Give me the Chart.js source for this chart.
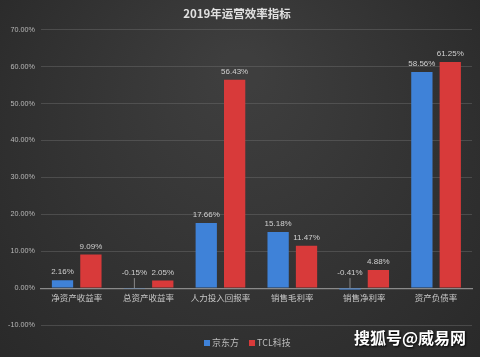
<!DOCTYPE html>
<html>
<head>
<meta charset="utf-8">
<script src="https://cdn.jsdelivr.net/npm/chart.js@4.4.1/dist/chart.umd.min.js"></script>
<style>
html,body{margin:0;padding:0;background:#2e2e2e;}
#wrap{width:480px;height:357px;position:relative;}
</style>
</head>
<body>
<div id="wrap"><canvas id="c" width="480" height="357"></canvas></div>
<script>
const categories = ["净资产收益率","总资产收益率","人力投入回报率","销售毛利率","销售净利率","资产负债率"];
const boeValues = [2.16, -0.15, 17.66, 15.18, -0.41, 58.56];
const tclValues = [9.09, 2.05, 56.43, 11.47, 4.88, 61.25];
const seriesNames = ["京东方","TCL科技"];
const yTicks = {min:-10, max:70, step:10};

const bgPlugin = {
  id:'bg',
  beforeDraw(chart){
    const {ctx,width,height} = chart;
    ctx.save();
    const g = ctx.createRadialGradient(width*0.5, height*0.2, 20, width*0.5, height*0.5, width*0.75);
    g.addColorStop(0,'#3e3e3e');
    g.addColorStop(1,'#262626');
    ctx.fillStyle = g;
    ctx.fillRect(0,0,width,height);
    ctx.restore();
  }
};

const labelPlugin = {
  id:'labels',
  afterDatasetsDraw(chart){
    const ctx = chart.ctx;
    const yScale = chart.scales.y;
    ctx.save();
    ctx.font = '8px "Liberation Sans", Arial, sans-serif';
    ctx.fillStyle = '#d0d0d0';
    ctx.textAlign = 'center';
    ctx.textBaseline = 'bottom';
    chart.data.datasets.forEach((ds,i)=>{
      const meta = chart.getDatasetMeta(i);
      meta.data.forEach((bar,j)=>{
        const v = ds.data[j];
        const y = yScale.getPixelForValue(Math.max(v,0));
        if (v < 0) {
          ctx.strokeStyle = '#a0a0a0';
          ctx.lineWidth = 0.8;
          ctx.beginPath();
          ctx.moveTo(bar.x, yScale.getPixelForValue(0));
          ctx.lineTo(bar.x, y - 10);
          ctx.stroke();
          ctx.fillText(v.toFixed(2)+'%', bar.x, y - 11);
        } else {
          ctx.fillText(v.toFixed(2)+'%', bar.x, y - 4);
        }
      });
    });
    ctx.restore();
  }
};

const legendPlugin = {
  id:'customLegend',
  afterDraw(chart){
    const ctx = chart.ctx;
    ctx.save();
    ctx.font = '9px "Noto Sans CJK SC", sans-serif';
    ctx.textBaseline = 'middle';
    const y = 343;
    let x = 204;
    chart.data.datasets.forEach((ds)=>{
      ctx.fillStyle = ds.backgroundColor;
      ctx.fillRect(x, y-3, 6, 6);
      ctx.fillStyle = '#bdbdbd';
      ctx.textAlign = 'left';
      ctx.fillText(ds.label, x+8, y);
      x += 8 + ctx.measureText(ds.label).width + 10;
    });
    // watermark
    ctx.font = 'bold 16px "Noto Sans CJK SC", sans-serif';
    ctx.shadowColor = 'rgba(0,0,0,0.9)';
    ctx.shadowBlur = 2;
    ctx.shadowOffsetX = 1;
    ctx.shadowOffsetY = 1;
    ctx.fillStyle = '#ffffff';
    ctx.textAlign = 'left';
    ctx.fillText('搜狐号@威易网', 354, 338);
    ctx.restore();
  }
};

new Chart(document.getElementById('c'), {
  type:'bar',
  data:{
    labels:categories,
    datasets:[
      {label:seriesNames[0], data:boeValues, backgroundColor:'#3f82d8', borderWidth:0, categoryPercentage:0.79, barPercentage:0.75},
      {label:seriesNames[1], data:tclValues, backgroundColor:'#d83a3a', borderWidth:0, categoryPercentage:0.79, barPercentage:0.75}
    ]
  },
  options:{
    responsive:false,
    animation:false,
    devicePixelRatio:1,
    layout:{padding:{left:2,right:8,top:0,bottom:32}},
    plugins:{
      legend:{display:false},
      tooltip:{enabled:false},
      title:{display:true, text:'2019年运营效率指标', color:'#e0e0e0',
        font:{size:11.5, weight:'bold', family:'"Noto Sans CJK SC", sans-serif'},
        padding:{top:7,bottom:9}}
    },
    scales:{
      x:{
        position:{y:0},
        grid:{display:false, drawTicks:false},
        border:{display:true, color:'#8a8a8a', width:1.2},
        ticks:{color:'#c8c8c8', font:{size:8.5, family:'"Noto Sans CJK SC", sans-serif'}, padding:5}
      },
      y:{
        min:yTicks.min, max:yTicks.max,
        grid:{color:'rgba(110,110,110,0.45)', drawTicks:false, lineWidth:1},
        border:{display:false},
        ticks:{stepSize:yTicks.step, color:'#b8b8b8', padding:6,
          font:{size:7.2, family:'"Liberation Sans", Arial, sans-serif'},
          callback:v=>v.toFixed(2)+'%'}
      }
    }
  },
  plugins:[bgPlugin,labelPlugin,legendPlugin]
});
</script>
</body>
</html>
